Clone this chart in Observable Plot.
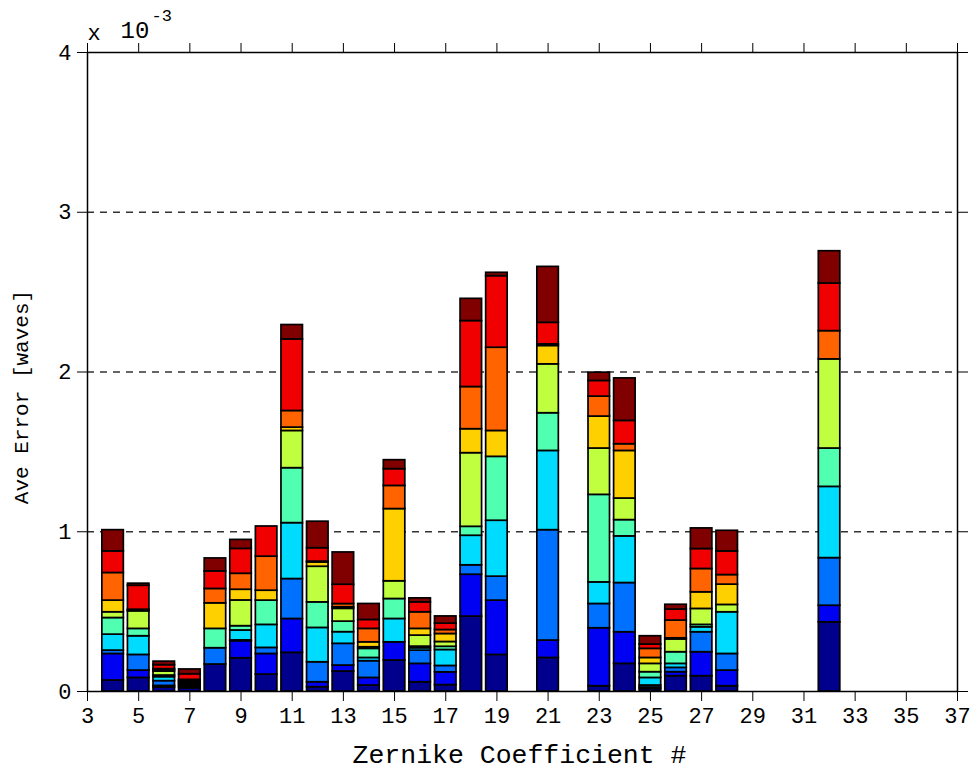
<!DOCTYPE html>
<html>
<head>
<meta charset="utf-8">
<script src="https://cdn.jsdelivr.net/npm/d3@7"></script>
<script src="https://cdn.jsdelivr.net/npm/@observablehq/plot@0.6"></script>
<style>
  html, body { margin: 0; padding: 0; background: #fff; }
  #chart { width: 973px; height: 772px; }
</style>
</head>
<body>
<div id="chart"></div>
<script>
// Zernike coefficient numbers (x categories)
const coefs = [4, 5, 6, 7, 8, 9, 10, 11, 12, 13, 14, 15, 16, 17, 18, 19, 21, 23, 24, 25, 26, 27, 28, 32];

// Ten stacked series (values in units of 1e-3 waves), bottom to top
const s1  = [0.069, 0.085, 0.025, 0.020, 0.169, 0.208, 0.106, 0.242, 0.027, 0.125, 0.0375, 0.194, 0.058, 0.040, 0.469, 0.229, 0.210, 0.033, 0.173, 0.015, 0.096, 0.096, 0.033, 0.433];
const s2  = [0.166, 0.046, 0.010, 0.010, 0.000, 0.107, 0.129, 0.212, 0.031, 0.0375, 0.0475, 0.114, 0.115, 0.080, 0.262, 0.340, 0.109, 0.363, 0.198, 0.010, 0.025, 0.150, 0.098, 0.104];
const s3  = [0.021, 0.098, 0.030, 0.008, 0.102, 0.005, 0.038, 0.250, 0.125, 0.136, 0.105, 0.000, 0.083, 0.040, 0.059, 0.150, 0.691, 0.152, 0.308, 0.0125, 0.027, 0.125, 0.104, 0.298];
const s4  = [0.100, 0.117, 0.025, 0.008, 0.000, 0.062, 0.144, 0.350, 0.215, 0.073, 0.020, 0.146, 0.015, 0.100, 0.185, 0.350, 0.496, 0.135, 0.292, 0.0475, 0.025, 0.031, 0.261, 0.446];
const s5  = [0.104, 0.046, 0.010, 0.007, 0.121, 0.027, 0.152, 0.344, 0.160, 0.066, 0.057, 0.125, 0.010, 0.020, 0.056, 0.400, 0.236, 0.548, 0.102, 0.036, 0.073, 0.015, 0.000, 0.240];
const s6  = [0.036, 0.110, 0.025, 0.007, 0.000, 0.161, 0.000, 0.233, 0.223, 0.080, 0.010, 0.111, 0.069, 0.030, 0.461, 0.000, 0.306, 0.290, 0.135, 0.052, 0.080, 0.100, 0.046, 0.558];
const s7  = [0.073, 0.005, 0.010, 0.005, 0.160, 0.067, 0.062, 0.021, 0.027, 0.010, 0.031, 0.452, 0.042, 0.050, 0.150, 0.162, 0.115, 0.200, 0.298, 0.037, 0.007, 0.104, 0.127, 0.000];
const s8  = [0.173, 0.005, 0.005, 0.008, 0.090, 0.100, 0.213, 0.104, 0.005, 0.020, 0.084, 0.145, 0.104, 0.025, 0.264, 0.521, 0.010, 0.125, 0.042, 0.057, 0.111, 0.146, 0.060, 0.177];
const s9  = [0.135, 0.150, 0.025, 0.035, 0.110, 0.156, 0.189, 0.448, 0.084, 0.121, 0.056, 0.105, 0.062, 0.040, 0.413, 0.448, 0.135, 0.098, 0.146, 0.027, 0.069, 0.125, 0.148, 0.298];
const s10 = [0.133, 0.013, 0.022, 0.030, 0.081, 0.056, 0.000, 0.090, 0.166, 0.202, 0.100, 0.056, 0.025, 0.045, 0.139, 0.021, 0.350, 0.052, 0.266, 0.052, 0.030, 0.129, 0.129, 0.202];

const series = [s1, s2, s3, s4, s5, s6, s7, s8, s9, s10];
const layerColors = ["#00008C", "#0000F2", "#0070FF", "#00DCFF", "#50FFB0", "#C0FF40", "#FFD000", "#FF6400", "#F00000", "#800000"];

const xTicks = [3, 5, 7, 9, 11, 13, 15, 17, 19, 21, 23, 25, 27, 29, 31, 33, 35, 37];
const yTicks = [0, 1, 2, 3, 4];
const gridValues = [1, 2, 3];

// Build stacked rows (cumulative per coefficient)
const rows = [];
coefs.forEach((c, i) => {
  let acc = 0;
  series.forEach((s, k) => {
    rows.push({coef: c, layer: k, y1: acc, y2: acc + s[i]});
    acc += s[i];
  });
});

const FONT = "Liberation Mono, DejaVu Sans Mono, monospace";
const halfWidth = 0.42;

const chart = Plot.plot({
  width: 973,
  height: 772,
  marginLeft: 87,
  marginRight: 16,
  marginTop: 52,
  marginBottom: 81,
  style: {fontFamily: FONT, background: "white", color: "black"},
  x: {domain: [3, 37]},
  y: {domain: [0, 4]},
  color: {domain: d3.range(10), range: layerColors},
  marks: [
    Plot.ruleY(gridValues, {stroke: "#333", strokeWidth: 1.5, strokeDasharray: "7,6"}),
    Plot.rect(rows, {
      x1: d => d.coef - halfWidth,
      x2: d => d.coef + halfWidth,
      y1: "y1",
      y2: "y2",
      fill: "layer",
      stroke: "black",
      strokeWidth: 1.7
    }),
    Plot.frame({stroke: "black", strokeWidth: 1.5}),
    Plot.axisX({ticks: xTicks, tickSize: 10, tickPadding: 6, fontSize: 22, label: null, tickFormat: d => String(d)}),
    Plot.axisX({anchor: "top", ticks: xTicks, tickSize: 10, tickFormat: () => "", label: null}),
    Plot.axisY({ticks: yTicks, tickSize: 10, tickPadding: 6, fontSize: 22, label: null, tickFormat: d => String(d)}),
    Plot.axisY({anchor: "right", ticks: yTicks, tickSize: 10, tickFormat: () => "", label: null}),
    Plot.text(["Zernike Coefficient #"], {frameAnchor: "bottom", dy: 63, fontSize: 26.5, fontFamily: FONT, textAnchor: "middle", lineAnchor: "middle", dx: -3}),
    Plot.text(["Ave Error [waves]"], {frameAnchor: "left", dx: -66, dy: 25, rotate: -90, fontSize: 21, fontFamily: FONT, textAnchor: "middle", lineAnchor: "middle"}),
    Plot.text(["x"], {frameAnchor: "top-left", dx: 0, dy: -20, textAnchor: "start", lineAnchor: "middle", fontSize: 22, fontFamily: FONT}),
    Plot.text(["10"], {frameAnchor: "top-left", dx: 33, dy: -22, textAnchor: "start", lineAnchor: "middle", fontSize: 24, fontFamily: FONT}),
    Plot.text(["-3"], {frameAnchor: "top-left", dx: 64, dy: -37, textAnchor: "start", lineAnchor: "middle", fontSize: 17, fontFamily: FONT})
  ]
});

document.getElementById("chart").appendChild(chart);
</script>
</body>
</html>
